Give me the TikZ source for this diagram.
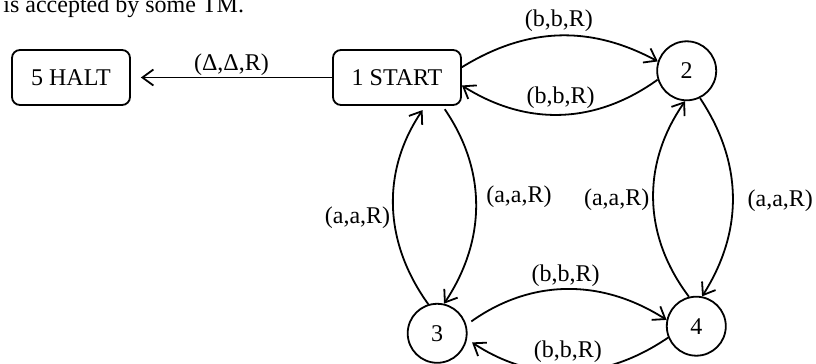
\documentclass[tikz,border=0pt]{standalone}
\usepackage{fontspec}
\setmainfont{Liberation Serif}
\usetikzlibrary{arrows.meta}

\begin{document}
\begin{tikzpicture}[
    x=0.5pt, y=-0.5pt,
    font=\fontsize{12}{14}\selectfont,
    stateBox/.style={draw, line width=0.9pt, rounded corners=4pt, minimum height=27.5pt, inner sep=0pt},
    stateCircle/.style={draw, line width=0.9pt, circle, minimum size=29.5pt, inner sep=0pt},
    moveArrow/.style={-{Straight Barb[length=5.5pt, width=8pt]}, line width=0.9pt},
    moveLabel/.style={inner sep=1pt},
  ]

  \useasboundingbox (0,0) rectangle (816,364);

  % ---- caption line, cut by the top edge ---------------------------------
  \node[anchor=base west, inner sep=0pt] (caption) at (3,12) {is accepted by some TM.};

  % ---- states -------------------------------------------------------------
  \node[stateBox, minimum width=59pt] (halt)  at (71,77.5)    {5 HALT};
  \node[stateBox, minimum width=64pt] (start) at (397,77.5)   {1 START};
  \node[stateCircle]                  (two)   at (686.7,70.8)  {2};
  \node[stateCircle]                  (three) at (437.2,333.3) {3};
  \node[stateCircle]                  (four)  at (696.3,326.2) {4};

  % ---- halting move -------------------------------------------------------
  \draw[moveArrow, shorten >=5pt] (start.west) --
        node[moveLabel, above, inner sep=0.5pt] {(Δ,Δ,R)} (halt.east);

  % ---- b-moves, top and bottom ---------------------------------------------
  \draw[moveArrow] (start.9) to[bend left=30]
        node[moveLabel, above=0.5pt] {(b,b,R)} (two.162);
  \draw[moveArrow] (two.197) to[bend left=34]
        node[moveLabel, above=1.5pt] {(b,b,R)} (start.-7);
  \draw[moveArrow, shorten <=3pt] (three.16) to[bend left=34]
        node[moveLabel, above] {(b,b,R)} (four.168);
  \draw[moveArrow, shorten >=3pt] (four.202) to[bend left=34]
        node[moveLabel, above=3pt] {(b,b,R)} (three.-11);

  % ---- a-moves, left and right ---------------------------------------------
  \draw[moveArrow, shorten <=2pt] (start.-32) to[bend left=34]
        node[moveLabel, right=4pt, pos=0.46] {(a,a,R)} (three.77);
  \draw[moveArrow, shorten >=2.5pt] (three.107) to[bend left=35]
        node[moveLabel, left=0.5pt, pos=0.44] {(a,a,R)} (start.-45);
  \draw[moveArrow] (two.-64) to[bend left=33]
        node[moveLabel, right=6pt, pos=0.52] {(a,a,R)} (four.79);
  \draw[moveArrow] (four.104) to[bend left=36]
        node[moveLabel, left=0.5pt] {(a,a,R)} (two.-93);

\end{tikzpicture}
\end{document}
